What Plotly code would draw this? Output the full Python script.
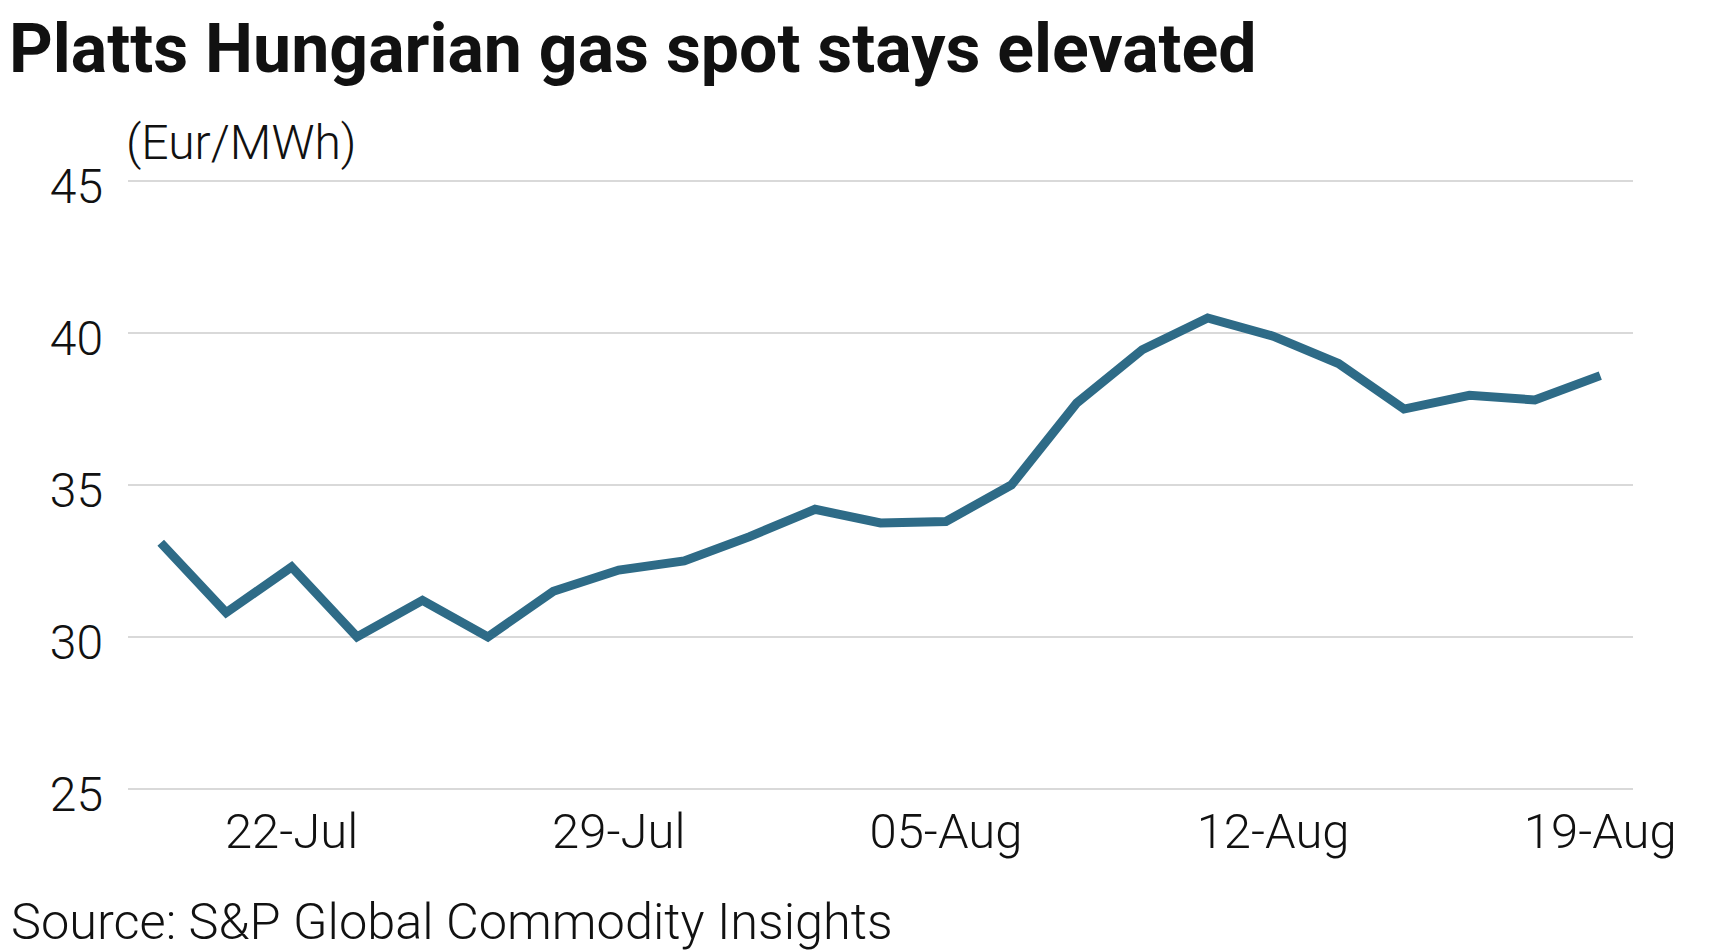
import plotly.graph_objects as go

dates = ["18-Jul", "19-Jul", "22-Jul", "23-Jul", "24-Jul", "25-Jul", "26-Jul",
         "29-Jul", "30-Jul", "31-Jul", "01-Aug", "02-Aug",
         "05-Aug", "06-Aug", "07-Aug", "08-Aug", "09-Aug",
         "12-Aug", "13-Aug", "14-Aug", "15-Aug", "16-Aug", "19-Aug"]
prices = [33.1, 30.8, 32.3, 30.0, 31.2, 30.0, 31.5,
          32.2, 32.5, 33.3, 34.2, 33.75,
          33.8, 35.0, 37.7, 39.45, 40.5,
          39.9, 39.0, 37.5, 37.95, 37.8, 38.6]
tick_labels = ["22-Jul", "29-Jul", "05-Aug", "12-Aug", "19-Aug"]
y_ticks = [25, 30, 35, 40, 45]

title_text = "Platts Hungarian gas spot stays elevated"
unit_text = "(Eur/MWh)"
source_text = "Source: S&P Global Commodity Insights"

TEXT = "#111111"
LIGHT = dict(family="Roboto", weight=300, color=TEXT)

fig = go.Figure()
fig.add_trace(go.Scatter(
    x=dates, y=prices, mode="lines",
    line=dict(color="#2e6b87", width=9),
    hoverinfo="x+y",
))

fig.update_layout(
    width=1710, height=952,
    paper_bgcolor="white", plot_bgcolor="white",
    margin=dict(l=128, r=77, t=180, b=162, autoexpand=False),
    showlegend=False,
    title=dict(
        text=title_text,
        font=dict(family="Roboto", weight=700, size=68, color=TEXT),
        xref="container", yref="container",
        x=9 / 1710, xanchor="left",
        y=1 - 48 / 952, yanchor="middle",
    ),
    xaxis=dict(
        type="category",
        categoryorder="array", categoryarray=dates,
        range=[-0.5, len(dates) - 0.5],
        tickmode="array", tickvals=tick_labels, ticktext=tick_labels,
        showgrid=False, zeroline=False, showline=False,
        ticks="", ticklabelstandoff=8,
        tickfont=dict(size=49, **LIGHT),
    ),
    yaxis=dict(
        range=[24.96, 45.04],
        tickmode="array", tickvals=y_ticks,
        showgrid=True, gridcolor="#d9d9d9", gridwidth=1.5,
        zeroline=False, showline=False,
        ticks="", ticklabelstandoff=24, ticklabelshift=5,
        tickfont=dict(size=48, **LIGHT),
    ),
    annotations=[
        dict(text=unit_text, xref="paper", yref="paper",
             x=0, y=1, xanchor="left", yanchor="bottom", yshift=7, xshift=-4,
             showarrow=False, font=dict(size=48, **LIGHT)),
        dict(text=source_text, xref="paper", yref="paper",
             x=(9 - 128) / 1505, y=(788.5 - 920) / 608,
             xanchor="left", yanchor="middle",
             showarrow=False, font=dict(size=50.5, **LIGHT)),
    ],
)

fig.write_html("out.html")
